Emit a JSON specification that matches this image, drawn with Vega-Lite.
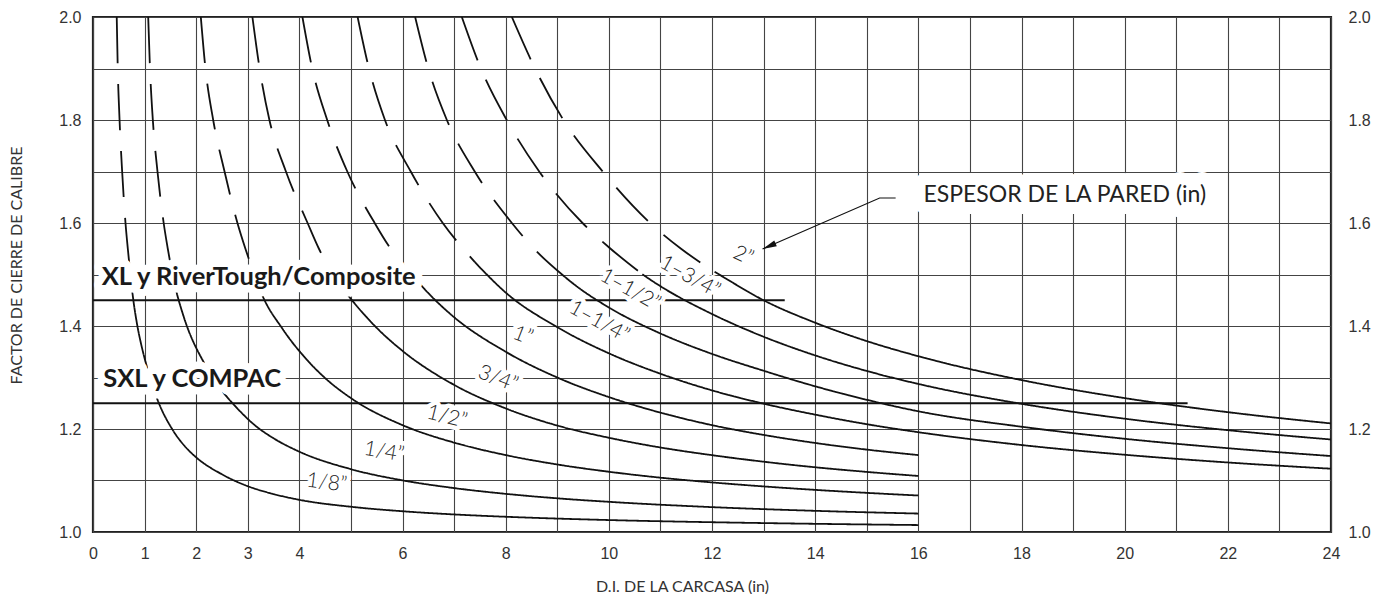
{
  "$schema": "https://vega.github.io/schema/vega-lite/v6.json",
  "width": 1238,
  "height": 515,
  "autosize": {"type": "none"},
  "padding": {"left": 93, "top": 17, "right": 59, "bottom": 62},
  "background": "white",
  "config": {
    "view": {"stroke": "#222", "strokeWidth": 2.2},
    "axis": {
      "gridColor": "#444", "gridWidth": 1.1, "gridOpacity": 1,
      "domain": false, "ticks": false, "tickSize": 0,
      "labelFont": "Liberation Sans", "labelFontSize": 16, "labelColor": "#333",
      "labelFlush": false, "labelOverlap": false,
      "titleFont": "Lato", "titleFontWeight": "normal", "titleFontSize": 16, "titleColor": "#333"
    }
  },
  "datasets": {
    "curves": [
      {"t":"1/8","p":"dashed","x":0.46,"y":2.0},{"t":"1/8","p":"dashed","x":0.48,"y":1.9},{"t":"1/8","p":"dashed","x":0.515,"y":1.8},{"t":"1/8","p":"dashed","x":0.565,"y":1.7},{"t":"1/8","p":"dashed","x":0.63,"y":1.6},{"t":"1/8","p":"dashed","x":0.675,"y":1.55},{"t":"1/8","p":"dashed","x":0.725,"y":1.5},
      {"t":"1/8","p":"solid","x":0.725,"y":1.5},{"t":"1/8","p":"solid","x":0.77,"y":1.4597},{"t":"1/8","p":"solid","x":0.85,"y":1.4059},{"t":"1/8","p":"solid","x":0.94,"y":1.3617},{"t":"1/8","p":"solid","x":1.03,"y":1.3262},{"t":"1/8","p":"solid","x":1.24,"y":1.2597},{"t":"1/8","p":"solid","x":1.55,"y":1.1974},{"t":"1/8","p":"solid","x":1.79,"y":1.1654},{"t":"1/8","p":"solid","x":2,"y":1.145},{"t":"1/8","p":"solid","x":2.5,"y":1.112},{"t":"1/8","p":"solid","x":2.76,"y":1.0989},{"t":"1/8","p":"solid","x":3,"y":1.089},{"t":"1/8","p":"solid","x":3.5,"y":1.0737},{"t":"1/8","p":"solid","x":4,"y":1.0625},{"t":"1/8","p":"solid","x":5,"y":1.049},{"t":"1/8","p":"solid","x":6,"y":1.0403},{"t":"1/8","p":"solid","x":7,"y":1.0341},{"t":"1/8","p":"solid","x":8,"y":1.0296},{"t":"1/8","p":"solid","x":10,"y":1.0232},{"t":"1/8","p":"solid","x":12,"y":1.019},{"t":"1/8","p":"solid","x":14,"y":1.0159},{"t":"1/8","p":"solid","x":16,"y":1.0135},

      {"t":"1/4","p":"dashed","x":1.07,"y":2.0},{"t":"1/4","p":"dashed","x":1.105,"y":1.9},{"t":"1/4","p":"dashed","x":1.16,"y":1.8},{"t":"1/4","p":"dashed","x":1.25,"y":1.7},{"t":"1/4","p":"dashed","x":1.37,"y":1.6},{"t":"1/4","p":"dashed","x":1.45,"y":1.55},{"t":"1/4","p":"dashed","x":1.54,"y":1.5},
      {"t":"1/4","p":"solid","x":1.54,"y":1.5},{"t":"1/4","p":"solid","x":1.615,"y":1.4675},{"t":"1/4","p":"solid","x":1.76,"y":1.4176},{"t":"1/4","p":"solid","x":2.18,"y":1.3234},{"t":"1/4","p":"solid","x":2.62,"y":1.2595},{"t":"1/4","p":"solid","x":2.73,"y":1.2473},{"t":"1/4","p":"solid","x":3.15,"y":1.2063},{"t":"1/4","p":"solid","x":3.5,"y":1.182},{"t":"1/4","p":"solid","x":4,"y":1.156},{"t":"1/4","p":"solid","x":5,"y":1.122},{"t":"1/4","p":"solid","x":6,"y":1.1003},{"t":"1/4","p":"solid","x":7,"y":1.0853},{"t":"1/4","p":"solid","x":8,"y":1.0741},{"t":"1/4","p":"solid","x":9,"y":1.0654},{"t":"1/4","p":"solid","x":10,"y":1.0586},{"t":"1/4","p":"solid","x":12,"y":1.0483},{"t":"1/4","p":"solid","x":14,"y":1.0411},{"t":"1/4","p":"solid","x":16,"y":1.0358},

      {"t":"1/2","p":"dashed","x":2.09,"y":2.0},{"t":"1/2","p":"dashed","x":2.18,"y":1.9},{"t":"1/2","p":"dashed","x":2.33,"y":1.8},{"t":"1/2","p":"dashed","x":2.55,"y":1.7},{"t":"1/2","p":"dashed","x":2.8,"y":1.6},{"t":"1/2","p":"dashed","x":2.955,"y":1.55},{"t":"1/2","p":"dashed","x":3.13,"y":1.5},
      {"t":"1/2","p":"solid","x":3.13,"y":1.5},{"t":"1/2","p":"solid","x":3.28,"y":1.4604},{"t":"1/2","p":"solid","x":3.67,"y":1.3951},{"t":"1/2","p":"solid","x":4.12,"y":1.3374},{"t":"1/2","p":"solid","x":4.5,"y":1.2989},{"t":"1/2","p":"solid","x":5,"y":1.26},{"t":"1/2","p":"solid","x":6,"y":1.2075},{"t":"1/2","p":"solid","x":7,"y":1.1736},{"t":"1/2","p":"solid","x":8,"y":1.1494},{"t":"1/2","p":"solid","x":9,"y":1.1311},{"t":"1/2","p":"solid","x":10,"y":1.117},{"t":"1/2","p":"solid","x":11,"y":1.1055},{"t":"1/2","p":"solid","x":12,"y":1.0963},{"t":"1/2","p":"solid","x":13,"y":1.0885},{"t":"1/2","p":"solid","x":14,"y":1.0818},{"t":"1/2","p":"solid","x":15,"y":1.076},{"t":"1/2","p":"solid","x":16,"y":1.0709},

      {"t":"3/4","p":"dashed","x":3.09,"y":2.0},{"t":"3/4","p":"dashed","x":3.23,"y":1.9},{"t":"3/4","p":"dashed","x":3.42,"y":1.8},{"t":"3/4","p":"dashed","x":3.74,"y":1.7},{"t":"3/4","p":"dashed","x":4.16,"y":1.6},{"t":"3/4","p":"dashed","x":4.38,"y":1.55},{"t":"3/4","p":"dashed","x":4.65,"y":1.5},
      {"t":"3/4","p":"solid","x":4.65,"y":1.5},{"t":"3/4","p":"solid","x":4.96,"y":1.4577},{"t":"3/4","p":"solid","x":5.5,"y":1.3964},{"t":"3/4","p":"solid","x":6,"y":1.3517},{"t":"3/4","p":"solid","x":7,"y":1.2857},{"t":"3/4","p":"solid","x":8,"y":1.24},{"t":"3/4","p":"solid","x":9,"y":1.2067},{"t":"3/4","p":"solid","x":10,"y":1.183},{"t":"3/4","p":"solid","x":11,"y":1.1641},{"t":"3/4","p":"solid","x":12,"y":1.1492},{"t":"3/4","p":"solid","x":13,"y":1.1365},{"t":"3/4","p":"solid","x":14,"y":1.1257},{"t":"3/4","p":"solid","x":15,"y":1.1167},{"t":"3/4","p":"solid","x":16,"y":1.1088},

      {"t":"1","p":"dashed","x":4.06,"y":2.0},{"t":"1","p":"dashed","x":4.25,"y":1.9},{"t":"1","p":"dashed","x":4.54,"y":1.8},{"t":"1","p":"dashed","x":4.93,"y":1.7},{"t":"1","p":"dashed","x":5.46,"y":1.6},{"t":"1","p":"dashed","x":5.77,"y":1.55},{"t":"1","p":"dashed","x":6.18,"y":1.5},
      {"t":"1","p":"solid","x":6.18,"y":1.5},{"t":"1","p":"solid","x":6.48,"y":1.466},{"t":"1","p":"solid","x":6.94,"y":1.4222},{"t":"1","p":"solid","x":8,"y":1.35},{"t":"1","p":"solid","x":9,"y":1.3},{"t":"1","p":"solid","x":10,"y":1.262},{"t":"1","p":"solid","x":11,"y":1.2318},{"t":"1","p":"solid","x":12,"y":1.2075},{"t":"1","p":"solid","x":13,"y":1.1885},{"t":"1","p":"solid","x":14,"y":1.1729},{"t":"1","p":"solid","x":15,"y":1.16},{"t":"1","p":"solid","x":16,"y":1.1494},

      {"t":"1-1/4","p":"dashed","x":5.13,"y":2.0},{"t":"1-1/4","p":"dashed","x":5.35,"y":1.9},{"t":"1-1/4","p":"dashed","x":5.66,"y":1.8},{"t":"1-1/4","p":"dashed","x":6.16,"y":1.7},{"t":"1-1/4","p":"dashed","x":6.78,"y":1.6},{"t":"1-1/4","p":"dashed","x":7.15,"y":1.553},{"t":"1-1/4","p":"dashed","x":7.4,"y":1.5243},
      {"t":"1-1/4","p":"solid","x":7.4,"y":1.5243},{"t":"1-1/4","p":"solid","x":7.55,"y":1.5086},{"t":"1-1/4","p":"solid","x":8,"y":1.465},{"t":"1-1/4","p":"solid","x":9,"y":1.3978},{"t":"1-1/4","p":"solid","x":10,"y":1.347},{"t":"1-1/4","p":"solid","x":11,"y":1.3073},{"t":"1-1/4","p":"solid","x":12,"y":1.275},{"t":"1-1/4","p":"solid","x":13,"y":1.2492},{"t":"1-1/4","p":"solid","x":14,"y":1.2279},{"t":"1-1/4","p":"solid","x":15,"y":1.2093},{"t":"1-1/4","p":"solid","x":16,"y":1.1938},{"t":"1-1/4","p":"solid","x":18,"y":1.1689},{"t":"1-1/4","p":"solid","x":20,"y":1.15},{"t":"1-1/4","p":"solid","x":22,"y":1.135},{"t":"1-1/4","p":"solid","x":24,"y":1.1229},

      {"t":"1-1/2","p":"dashed","x":6.245,"y":2.0},{"t":"1-1/2","p":"dashed","x":6.5,"y":1.9},{"t":"1-1/2","p":"dashed","x":6.86,"y":1.8},{"t":"1-1/2","p":"dashed","x":7.4,"y":1.7},{"t":"1-1/2","p":"dashed","x":8.12,"y":1.6},{"t":"1-1/2","p":"dashed","x":8.55,"y":1.55},{"t":"1-1/2","p":"dashed","x":9.15,"y":1.4951},
      {"t":"1-1/2","p":"solid","x":9.15,"y":1.4951},{"t":"1-1/2","p":"solid","x":9.35,"y":1.4791},{"t":"1-1/2","p":"solid","x":10,"y":1.436},{"t":"1-1/2","p":"solid","x":11,"y":1.3855},{"t":"1-1/2","p":"solid","x":12,"y":1.3458},{"t":"1-1/2","p":"solid","x":13,"y":1.3131},{"t":"1-1/2","p":"solid","x":14,"y":1.2829},{"t":"1-1/2","p":"solid","x":15,"y":1.2567},{"t":"1-1/2","p":"solid","x":16,"y":1.2344},{"t":"1-1/2","p":"solid","x":18,"y":1.2044},{"t":"1-1/2","p":"solid","x":20,"y":1.181},{"t":"1-1/2","p":"solid","x":22,"y":1.1627},{"t":"1-1/2","p":"solid","x":24,"y":1.1475},

      {"t":"1-3/4","p":"dashed","x":7.15,"y":2.0},{"t":"1-3/4","p":"dashed","x":7.52,"y":1.9},{"t":"1-3/4","p":"dashed","x":8.02,"y":1.8},{"t":"1-3/4","p":"dashed","x":8.65,"y":1.7},{"t":"1-3/4","p":"dashed","x":9.49,"y":1.6},{"t":"1-3/4","p":"dashed","x":10.0,"y":1.553},{"t":"1-3/4","p":"dashed","x":10.65,"y":1.5005},
      {"t":"1-3/4","p":"solid","x":10.65,"y":1.5005},{"t":"1-3/4","p":"solid","x":10.82,"y":1.4889},{"t":"1-3/4","p":"solid","x":11,"y":1.4773},{"t":"1-3/4","p":"solid","x":12,"y":1.4233},{"t":"1-3/4","p":"solid","x":13,"y":1.3792},{"t":"1-3/4","p":"solid","x":14,"y":1.3429},{"t":"1-3/4","p":"solid","x":15,"y":1.3127},{"t":"1-3/4","p":"solid","x":16,"y":1.2875},{"t":"1-3/4","p":"solid","x":18,"y":1.2489},{"t":"1-3/4","p":"solid","x":20,"y":1.22},{"t":"1-3/4","p":"solid","x":22,"y":1.1977},{"t":"1-3/4","p":"solid","x":24,"y":1.1796},

      {"t":"2","p":"dashed","x":8.12,"y":2.0},{"t":"2","p":"dashed","x":8.57,"y":1.9},{"t":"2","p":"dashed","x":9.12,"y":1.8},{"t":"2","p":"dashed","x":9.88,"y":1.7},{"t":"2","p":"dashed","x":10.8,"y":1.6},{"t":"2","p":"dashed","x":11.4,"y":1.55},{"t":"2","p":"dashed","x":12.05,"y":1.5054},
      {"t":"2","p":"solid","x":12.05,"y":1.5054},{"t":"2","p":"solid","x":12.22,"y":1.4951},{"t":"2","p":"solid","x":13,"y":1.45},{"t":"2","p":"solid","x":14,"y":1.4064},{"t":"2","p":"solid","x":15,"y":1.3707},{"t":"2","p":"solid","x":16,"y":1.3413},{"t":"2","p":"solid","x":18,"y":1.295},{"t":"2","p":"solid","x":20,"y":1.26},{"t":"2","p":"solid","x":22,"y":1.2327},{"t":"2","p":"solid","x":24,"y":1.2108}
    ],
    "refs": [
      {"name":"XL","x":0,"x2":13.41,"y":1.45},
      {"name":"SXL","x":0,"x2":21.22,"y":1.25}
    ],
    "bold": [
      {"label":"XL y RiverTough/Composite","x":0.17,"y":1.4796},
      {"label":"SXL y COMPAC","x":0.2,"y":1.282}
    ],
    "note": [
      {"label":"ESPESOR DE LA PARED (in)","x":18.84,"y":1.654}
    ],
    "clabels": [
      {"t":"1/8","label":"1/8”","x":4.53,"y":1.095},
      {"t":"1/4","label":"1/4”","x":5.64,"y":1.155},
      {"t":"1/2","label":"1/2”","x":6.86,"y":1.223},
      {"t":"3/4","label":"3/4”","x":7.85,"y":1.297},
      {"t":"1","label":"1”","x":8.33,"y":1.381},
      {"t":"1-1/4","label":"1–1/4”","x":9.81,"y":1.408},
      {"t":"1-1/2","label":"1–1/2”","x":10.41,"y":1.47},
      {"t":"1-3/4","label":"1–3/4”","x":11.57,"y":1.495},
      {"t":"2","label":"2”","x":12.6,"y":1.536}
    ],
    "arrow": [
      {"x":15.56,"y":1.6485},
      {"x":15.25,"y":1.6485},
      {"x":12.98,"y":1.5495}
    ],
    "tip": [
      {"x":12.98,"y":1.5495}
    ]
  },
  "layer": [
    {
      "encoding": {
        "x": {
          "field": "x", "type": "quantitative",
          "scale": {"domain": [0, 24], "nice": false, "zero": false},
          "axis": {
            "orient": "bottom",
            "values": [0,1,2,3,4,5,6,7,8,9,10,11,12,13,14,15,16,17,18,19,20,21,22,23,24],
            "labelExpr": "(datum.value <= 4 || datum.value % 2 == 0) ? datum.label : ''",
            "grid": true,
            "labelPadding": 13,
            "title": "D.I. DE LA CARCASA (in)",
            "titleX": 589, "titleY": 59,
            "titleAlign": "center", "titleBaseline": "alphabetic"
          }
        },
        "y": {
          "field": "y", "type": "quantitative",
          "scale": {"domain": [1, 2], "nice": false, "zero": false},
          "axis": {
            "orient": "left",
            "values": [1,1.1,1.2,1.3,1.4,1.5,1.6,1.7,1.8,1.9,2],
            "labelExpr": "(round(datum.value*10) % 2 == 0) ? format(datum.value, '.1f') : ''",
            "grid": true,
            "labelPadding": 12,
            "title": "FACTOR DE CIERRE DE CALIBRE",
            "titleX": -77, "titleY": 248, "titleAngle": -90,
            "titleAlign": "center", "titleBaseline": "middle"
          }
        }
      },
      "layer": [
        {
          "data": {"name": "curves"},
          "mark": {"type": "line", "interpolate": "monotone", "color": "#111", "strokeWidth": 1.8, "clip": true},
          "encoding": {
            "detail": {"field": "t"},
            "strokeDash": {"field": "p", "type": "nominal", "scale": {"domain": ["solid", "dashed"], "range": [[1, 0], [46, 21]]}, "legend": null}
          }
        },
        {
          "data": {"name": "refs"},
          "mark": {"type": "rule", "color": "#111", "strokeWidth": 2.2},
          "encoding": {"x2": {"field": "x2"}}
        },
        {
          "data": {"name": "bold"},
          "layer": [
            {"mark": {"type": "text", "font": "Lato", "fontWeight": "bold", "fontSize": 25.5, "align": "left", "baseline": "alphabetic", "color": "white", "stroke": "white", "strokeWidth": 15, "strokeJoin": "round"}},
            {"mark": {"type": "text", "font": "Lato", "fontWeight": "bold", "fontSize": 25.5, "align": "left", "baseline": "alphabetic", "color": "#1a1a1a"}}
          ],
          "encoding": {"text": {"field": "label"}}
        },
        {
          "data": {"name": "note"},
          "layer": [
            {"mark": {"type": "text", "font": "Lato", "fontSize": 23, "align": "center", "baseline": "middle", "color": "white", "stroke": "white", "strokeWidth": 24, "strokeJoin": "round"}},
            {"mark": {"type": "text", "font": "Lato", "fontSize": 23, "align": "center", "baseline": "middle", "color": "#222"}}
          ],
          "encoding": {"text": {"field": "label"}}
        },
        {
          "data": {"name": "clabels"},
          "transform": [{"filter": "datum.t == '1/8'"}],
          "layer": [
            {"mark": {"type": "text", "font": "Lato", "fontWeight": 300, "fontSize": 21, "angle": 7, "align": "center", "baseline": "middle", "color": "white", "stroke": "white", "strokeWidth": 9, "strokeJoin": "round"}},
            {"mark": {"type": "text", "font": "Lato", "fontWeight": 300, "fontSize": 21, "angle": 7, "align": "center", "baseline": "middle", "color": "#222"}}
          ],
          "encoding": {"text": {"field": "label"}}
        },
        {
          "data": {"name": "clabels"},
          "transform": [{"filter": "datum.t == '1/4'"}],
          "layer": [
            {"mark": {"type": "text", "font": "Lato", "fontWeight": 300, "fontSize": 21, "angle": 10, "align": "center", "baseline": "middle", "color": "white", "stroke": "white", "strokeWidth": 9, "strokeJoin": "round"}},
            {"mark": {"type": "text", "font": "Lato", "fontWeight": 300, "fontSize": 21, "angle": 10, "align": "center", "baseline": "middle", "color": "#222"}}
          ],
          "encoding": {"text": {"field": "label"}}
        },
        {
          "data": {"name": "clabels"},
          "transform": [{"filter": "datum.t == '1/2'"}],
          "layer": [
            {"mark": {"type": "text", "font": "Lato", "fontWeight": 300, "fontSize": 21, "angle": 14, "align": "center", "baseline": "middle", "color": "white", "stroke": "white", "strokeWidth": 9, "strokeJoin": "round"}},
            {"mark": {"type": "text", "font": "Lato", "fontWeight": 300, "fontSize": 21, "angle": 14, "align": "center", "baseline": "middle", "color": "#222"}}
          ],
          "encoding": {"text": {"field": "label"}}
        },
        {
          "data": {"name": "clabels"},
          "transform": [{"filter": "datum.t == '3/4' || datum.t == '1'"}],
          "layer": [
            {"mark": {"type": "text", "font": "Lato", "fontWeight": 300, "fontSize": 21, "angle": 21, "align": "center", "baseline": "middle", "color": "white", "stroke": "white", "strokeWidth": 9, "strokeJoin": "round"}},
            {"mark": {"type": "text", "font": "Lato", "fontWeight": 300, "fontSize": 21, "angle": 21, "align": "center", "baseline": "middle", "color": "#222"}}
          ],
          "encoding": {"text": {"field": "label"}}
        },
        {
          "data": {"name": "clabels"},
          "transform": [{"filter": "datum.t == '1-1/4' || datum.t == '1-1/2' || datum.t == '1-3/4'"}],
          "layer": [
            {"mark": {"type": "text", "font": "Lato", "fontWeight": 300, "fontSize": 21, "angle": 29, "align": "center", "baseline": "middle", "color": "white", "stroke": "white", "strokeWidth": 9, "strokeJoin": "round"}},
            {"mark": {"type": "text", "font": "Lato", "fontWeight": 300, "fontSize": 21, "angle": 29, "align": "center", "baseline": "middle", "color": "#222"}}
          ],
          "encoding": {"text": {"field": "label"}}
        },
        {
          "data": {"name": "clabels"},
          "transform": [{"filter": "datum.t == '2'"}],
          "layer": [
            {"mark": {"type": "text", "font": "Lato", "fontWeight": 300, "fontSize": 21, "angle": 25, "align": "center", "baseline": "middle", "color": "white", "stroke": "white", "strokeWidth": 9, "strokeJoin": "round"}},
            {"mark": {"type": "text", "font": "Lato", "fontWeight": 300, "fontSize": 21, "angle": 25, "align": "center", "baseline": "middle", "color": "#222"}}
          ],
          "encoding": {"text": {"field": "label"}}
        },
        {
          "data": {"name": "arrow"},
          "mark": {"type": "line", "color": "#111", "strokeWidth": 1.2},
          "encoding": {}
        },
        {
          "data": {"name": "tip"},
          "mark": {"type": "point", "shape": "M0,0L-2,-0.45L-2,0.45Z", "size": 200, "angle": 156.5, "filled": true, "color": "#111", "opacity": 1, "strokeWidth": 0}
        }
      ]
    },
    {
      "data": {"name": "refs"},
      "mark": {"type": "rule", "opacity": 0},
      "encoding": {
        "y": {
          "field": "y", "type": "quantitative",
          "scale": {"domain": [1, 2], "nice": false, "zero": false},
          "axis": {
            "orient": "right",
            "values": [1, 1.2, 1.4, 1.6, 1.8, 2],
            "format": ".1f",
            "grid": false,
            "labelPadding": 17,
            "title": null
          }
        }
      }
    }
  ],
  "resolve": {"axis": {"y": "independent"}}
}
